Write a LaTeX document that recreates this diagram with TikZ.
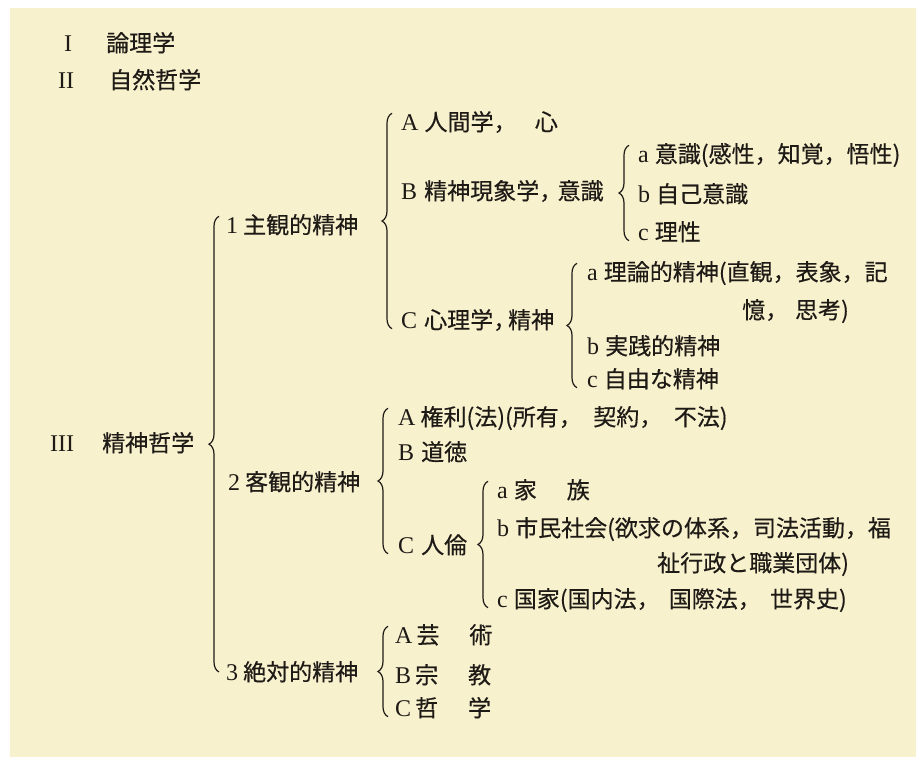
\documentclass[tikz,border=0pt]{standalone}
\usepackage{fontspec}
\setmainfont{Liberation Serif}
\newfontfamily\jp[FakeBold=0.4]{Noto Sans CJK JP}
\usetikzlibrary{decorations.pathreplacing}
\definecolor{paper}{RGB}{248,241,206}
\definecolor{ink}{RGB}{30,26,22}
\newcommand\J[1]{{\jp\fontsize{23}{27}\selectfont #1}}
\begin{document}
\begin{tikzpicture}[x=1pt,y=-1pt,
  font=\fontsize{24}{28}\selectfont,
  lbl/.style={anchor=west, inner sep=0pt, text height=17pt, text depth=0pt, text=ink},
  br/.style={draw=ink, line width=1.2pt, decorate, decoration={brace, amplitude=10pt, aspect=0.5}}]
\useasboundingbox (0,0) rectangle (916,761);
\fill[white] (0,0) rectangle (916,761);
\fill[paper] (10,8) rectangle (916,757);

% top level
\node[lbl] (t1) at (50,43)  {\makebox[22pt][r]{I}\hspace{34pt}\J{論理学}};
\node[lbl] (t2) at (52,80)  {\makebox[22pt][r]{II}\hspace{35pt}\J{自然哲学}};
\node[lbl] (t3) at (52,443) {\makebox[22pt][r]{III}\hspace{28pt}\J{精神哲学}};

% second level
\node[lbl] (n1) at (226,225) {1\hspace{5pt}\J{主観的精神}};
\node[lbl] (n2) at (228,482) {2\hspace{5pt}\J{客観的精神}};
\node[lbl] (n3) at (226,672) {3\hspace{5pt}\J{絶対的精神}};

% 1 subjective spirit
\node[lbl] (sA) at (401,122) {A\hspace{6pt}\J{人間学，\hspace{.8em}心}};
\node[lbl] (sB) at (401,191) {B\hspace{7pt}\J{精神現象学，\hspace{-.2em}意識}};
\node[lbl] (sC) at (401,320) {C\hspace{7pt}\J{心理学，\hspace{-.35em}精神}};

\node[lbl] (sBa) at (638,154) {a\hspace{6pt}\J{意識(感性，知覚，悟性)}};
\node[lbl] (sBb) at (638,194) {b\hspace{6pt}\J{自己意識}};
\node[lbl] (sBc) at (638,232) {c\hspace{6pt}\J{理性}};

\node[lbl] (sCa) at (587,272) {a\hspace{6pt}\J{理論的精神(直観，表象，記}};
\node[lbl] (sCa2) at (742,310) {\J{憶，\hspace{.3em}思考)}};
\node[lbl] (sCb) at (587,346) {b\hspace{6pt}\J{実践的精神}};
\node[lbl] (sCc) at (587,379) {c\hspace{6pt}\J{自由な精神}};

% 2 objective spirit
\node[lbl] (oA) at (398,417) {A\hspace{5pt}\J{権利(法)(所有，\hspace{.5em}契約，\hspace{.5em}不法)}};
\node[lbl] (oB) at (398,452) {B\hspace{7pt}\J{道徳}};
\node[lbl] (oC) at (398,545) {C\hspace{7pt}\J{人倫}};

\node[lbl] (oCa) at (497,490) {a\hspace{6pt}\J{家\hspace{1.3em}族}};
\node[lbl] (oCb) at (497,528) {b\hspace{6pt}\J{市民社会(欲求の体系，司法活動，福}};
\node[lbl] (oCb2) at (657,563) {\J{祉行政と職業団体)}};
\node[lbl] (oCc) at (497,599) {c\hspace{6pt}\J{国家(国内法，\hspace{.4em}国際法，\hspace{.4em}世界史)}};

% 3 absolute spirit
\node[lbl] (aA) at (395,635) {A\hspace{4pt}\J{芸\hspace{1.3em}術}};
\node[lbl] (aB) at (395,675) {B\hspace{4pt}\J{宗\hspace{1.3em}教}};
\node[lbl] (aC) at (395,708) {C\hspace{4pt}\J{哲\hspace{1.3em}学}};

% braces
\draw[br] ([xshift=-7pt]n3.west) -- ([xshift=-7pt]n1.north west);
\draw[br] ([xshift=-9pt]sC.south west) -- ([xshift=-9pt]sA.north west);
\draw[br] ([xshift=-9pt]sBc.south west) -- ([xshift=-9pt]sBa.north west);
\draw[br] ([xshift=-10pt]sCc.south west) -- ([xshift=-10pt]sCa.north west);
\draw[br] ([xshift=-10pt]oC.south west) -- ([xshift=-10pt]oA.north west);
\draw[br] ([xshift=-9pt]oCc.south west) -- ([xshift=-9pt]oCa.north west);
\draw[br] ([xshift=-7pt]aC.south west) -- ([xshift=-7pt]aA.north west);
\end{tikzpicture}
\end{document}
